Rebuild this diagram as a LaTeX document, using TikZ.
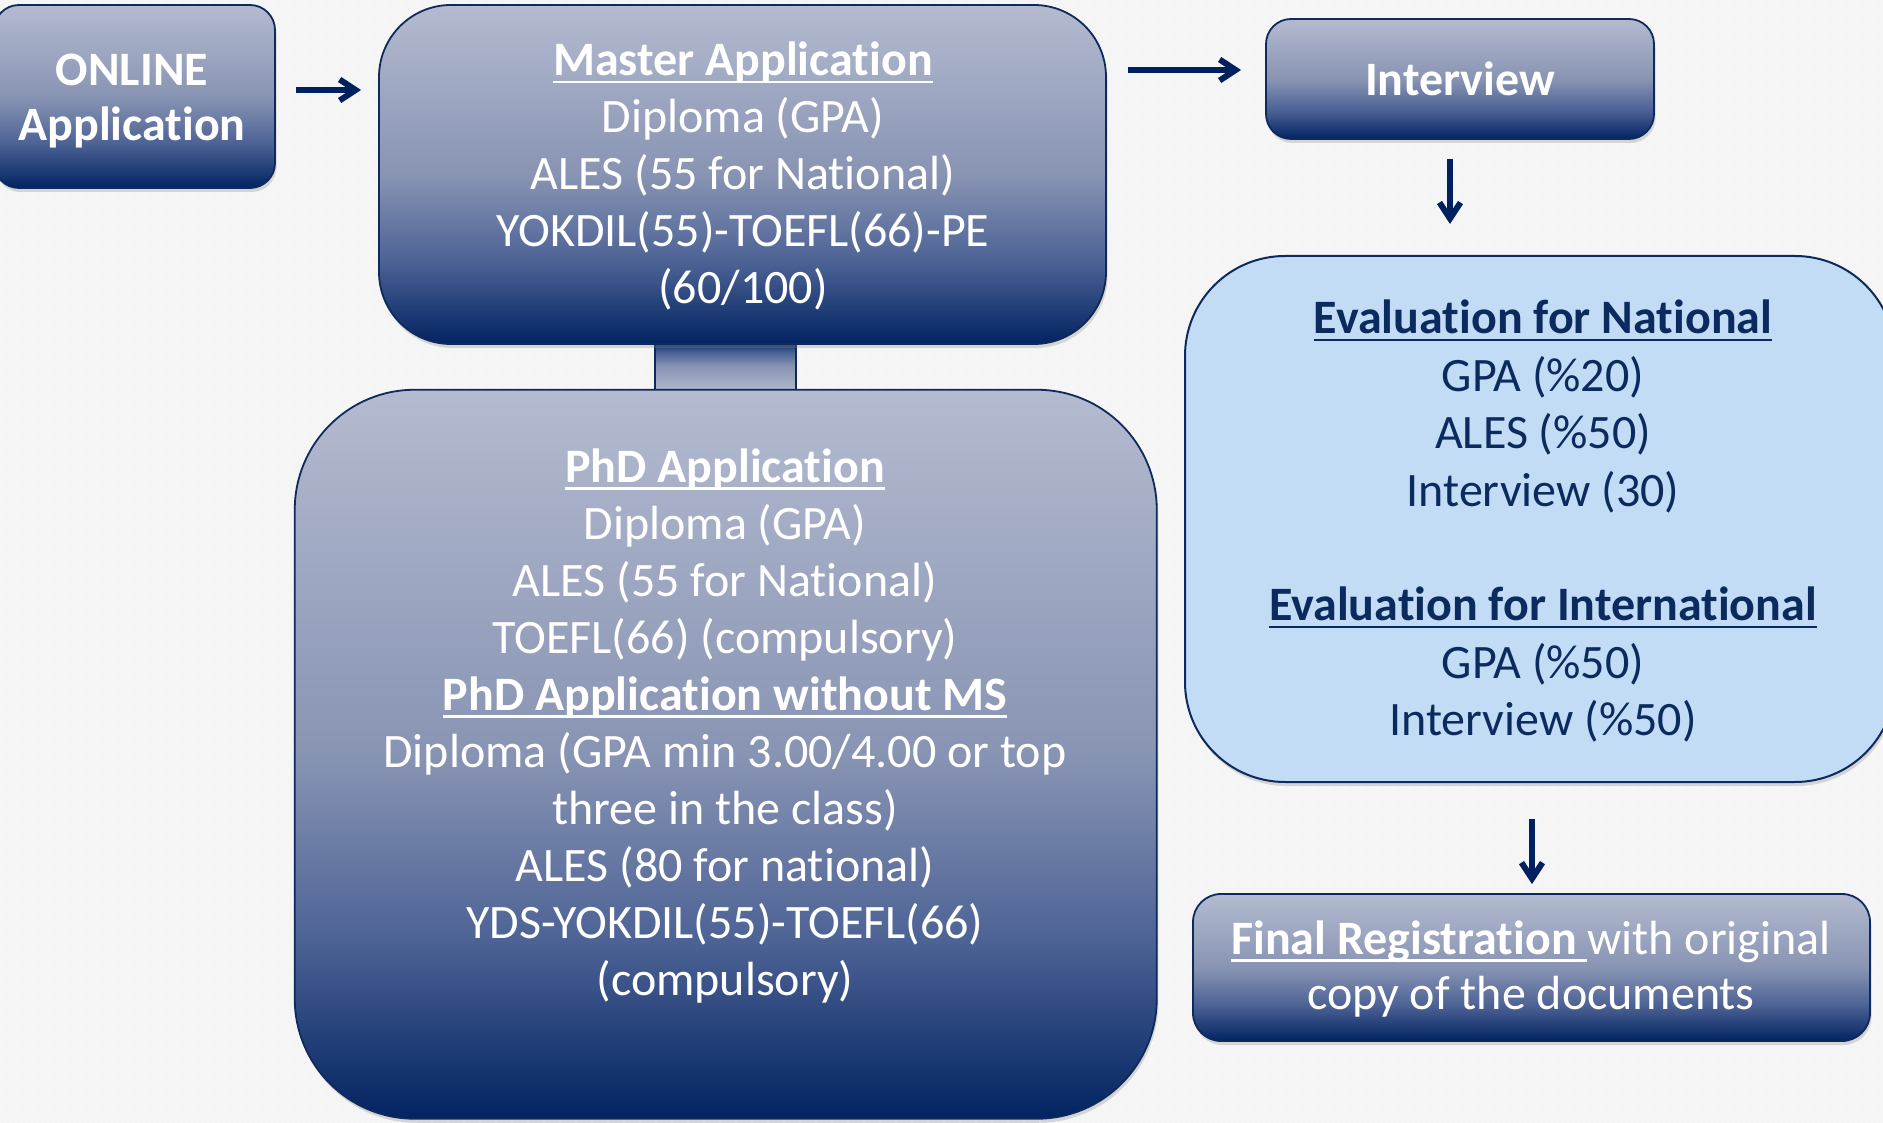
\documentclass[tikz,border=0pt]{standalone}
\usepackage{fontspec}
\setmainfont{Carlito}[Ligatures=NoCommon,RawFeature=-liga,RawFeature=-clig,RawFeature=-calt,RawFeature=-dlig]
\usetikzlibrary{arrows.meta,calc,shadows,patterns.meta}
\definecolor{bgc}{HTML}{F5F5F5}
\definecolor{gL}{HTML}{B4BBD0}
\definecolor{gM}{HTML}{8894B3}
\definecolor{gM2}{HTML}{4E6496}
\definecolor{gD}{HTML}{022362}
\definecolor{edge}{HTML}{0E2A5C}
\definecolor{navy}{HTML}{002060}
\definecolor{lblue}{HTML}{C2DCF6}
\definecolor{evtxt}{HTML}{0B2A5E}
\pgfdeclareverticalshading{navygrad}{100bp}{color(0bp)=(gD); color(25bp)=(gD); color(37.5bp)=(gM2); color(50bp)=(gM); color(75bp)=(gL); color(100bp)=(gL)}
\newsavebox\ulbox
\newcommand\myul[1]{\sbox\ulbox{#1}\rlap{\vrule width\wd\ulbox height -5pt depth 7.5pt}\usebox\ulbox}
\newcommand\ctr[1]{\hbox to 0pt{\hss#1\hss}}
\newcommand\stack[2]{\vtop{\baselineskip=#1\lineskiplimit=-1000pt\lineskip=0pt #2}}
\tikzset{
  shad/.style={drop shadow={shadow xshift=1.5pt,shadow yshift=-4pt,opacity=0.28}},
  navybox/.style={draw=edge,line width=1.8pt,shade,shading=navygrad,inner sep=0pt,shad},
  evbox/.style={draw=edge,line width=2pt,fill=lblue,inner sep=0pt,shad},
  txt/.style={inner sep=0pt,anchor=base,text=white,font=\fontsize{48}{57}\selectfont},
  arr/.style={draw=navy,line width=6pt,-{Straight Barb[length=16pt,width=21pt]}}
}
\begin{document}
\begin{tikzpicture}[x=1pt,y=-1pt]
\useasboundingbox (0,0) rectangle (1883,1123);
\fill[bgc] (0,0) rectangle (1883,1123);
\fill[pattern={Dots[distance=16pt,radius=1.1pt]},pattern color=white] (0,0) rectangle (1883,1123);
% connector between master and phd
\node[draw=edge,line width=1.5pt,shade,shading=navygrad,shading angle=180,inner sep=0pt,minimum width=141pt,minimum height=52pt] (conn) at (725.5,366) {};
% boxes
\node[navybox,rounded corners=25pt,minimum width=281pt,minimum height=183pt] (online) at (134.5,96.5) {};
\node[navybox,rounded corners=72pt,minimum width=727pt,minimum height=339pt] (master) at (742.5,174.5) {};
\node[navybox,rounded corners=120pt,minimum width=862pt,minimum height=729pt] (phd) at (725.75,754.25) {};
\node[navybox,rounded corners=25pt,minimum width=388pt,minimum height=120pt] (interview) at (1460,79) {};
\node[evbox,rounded corners=100pt,minimum width=710pt,minimum height=526pt] (eval) at (1540,519) {};
\node[navybox,rounded corners=28pt,minimum width=677pt,minimum height=147pt] (final) at (1531.5,967.5) {};
% arrows
\draw[arr] ($(online.east)+(20,-6.5)$) -- ($(master.west|-online.east)+(-17,-6.5)$);
\draw[arr] ($(master.east|-interview.west)+(21,-9)$) -- ($(interview.west)+(-24,-9)$);
\draw[arr] ($(interview.south)+(-10,19)$) -- ($(interview.south|-eval.north)+(-10,-31)$);
\draw[arr] ($(final.north|-eval.south)+(0.5,36)$) -- ($(final.north)+(0.5,-9)$);
% texts
\node[txt] (onlinet) at (132,86) {\stack{55pt}{\ctr{\textbf{ONLINE}}\ctr{\textbf{Application}}}};
\node[txt] (mastert) at (743,76) {\stack{57pt}{\ctr{\myul{\textbf{Master Application}}}\ctr{Diploma (GPA)}\ctr{ALES (55 for National)}\ctr{YOKDIL(55)-TOEFL(66)-PE}\ctr{(60/100)}}};
\node[txt] (phdt) at (725,482) {\stack{57.1pt}{\ctr{\myul{\textbf{PhD Application}}}\ctr{Diploma (GPA)}\ctr{ALES (55 for National)}\ctr{TOEFL(66) (compulsory)}\ctr{\myul{\textbf{PhD Application without MS}}}\ctr{Diploma (GPA min 3.00/4.00 or top}\ctr{three in the class)}\ctr{ALES (80 for national)}\ctr{YDS-YOKDIL(55)-TOEFL(66)}\ctr{(compulsory)}}};
\node[txt] (interviewt) at (1460,96) {\textbf{Interview}};
\node[txt,text=evtxt] (evalt) at (1543,334) {\stack{57.4pt}{\ctr{\myul{\textbf{Evaluation for National}}}\ctr{GPA (\%20)}\ctr{ALES (\%50)}\ctr{Interview (30)}\ctr{}\ctr{\myul{\textbf{Evaluation for International}}}\ctr{GPA (\%50)}\ctr{Interview (\%50)}}};
\node[txt] (finalt) at (1531,954) {\stack{55pt}{\ctr{\myul{\textbf{Final Registration }}with original}\ctr{copy of the documents}}};
\end{tikzpicture}
\end{document}
